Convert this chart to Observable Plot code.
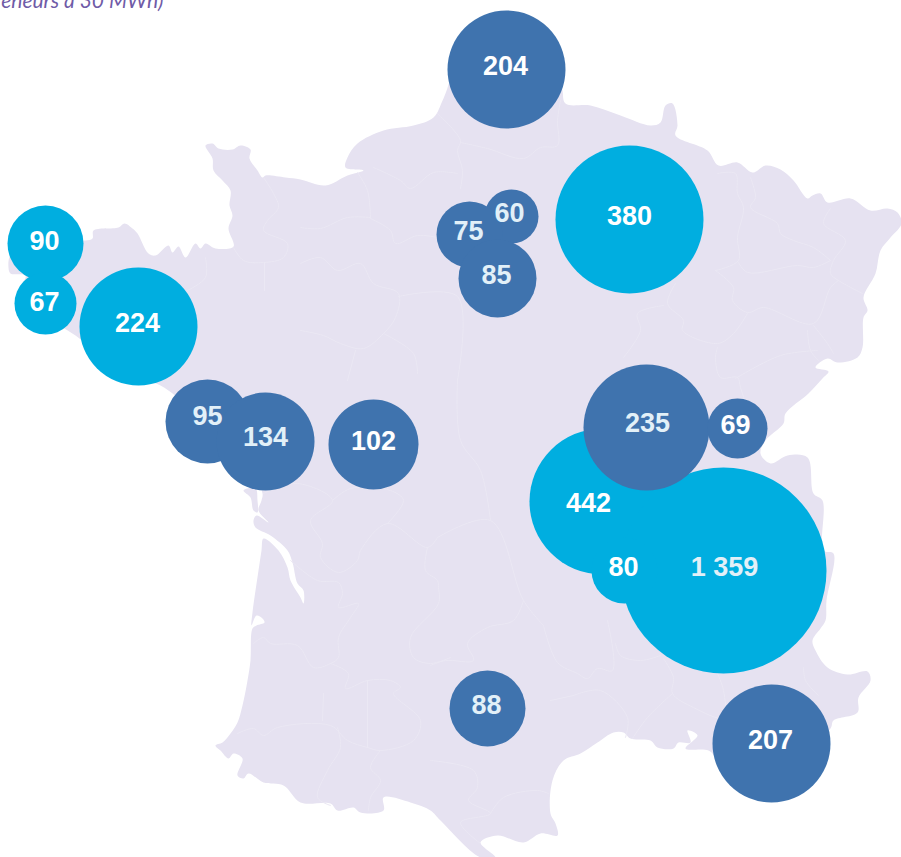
<!DOCTYPE html>
<html lang="fr">
<head>
<meta charset="utf-8">
<title>Carte</title>
<script src="https://cdn.jsdelivr.net/npm/d3@7"></script>
<script src="https://cdn.jsdelivr.net/npm/@observablehq/plot@0.6"></script>
<style>html,body{margin:0;padding:0;background:#fff;overflow:hidden}svg{display:block}</style>
</head>
<body>
<div id="chart"></div>
<script>
// Bubble values and their places on the map (map units)
const labels = ["204","380","60","75","85","90","67","224","95","134","102","442","1 359","80","235","69","88","207"];
const values = [204,380,60,75,85,90,67,224,95,134,102,442,1359,80,235,69,88,207];
const mapX   = [506,629,511,469,497,45,45,138,207,265,373,602,723,624,646,737,487,771];
const mapY   = [69,219,216,234,278,243,303,326,421,441,444,501,570,570,427,428,708,743];
const labelX = [505,629,509,468,496,44,44,137,207,265,373,588,724,623,647,735,486,770];
const labelY = [66,216,213,231,275,241,302,323,416,437,441,503,567,567,423,425,705,740];
const kinds  = ["b","c","b","b","b","c","c","c","b","b","b","c","c","c","b","b","b","b"];
const softLabels = ["60","75","85","95","134","235","88","1 359"];

// Radius legend: value -> drawn radius
const radiusDomain = [60,67,69,75,80,85,88,90,95,102,134,204,207,224,235,380,442,1359];
const radiusRange  = [27,31,30,33,33,39,38,38,42,45,49,59,59,59,63,74,73,103];

// France outline, traced (map units)
const coast = [[205,145],[212,143],[218,148],[232,149],[240,145],[250,149],[249,158],[257,170],[262,177],[265,175],[285,177],[300,179],[325,185],[347,175],[363,170],[345,167],[347,157],[357,143],[383,130],[413,125],[433,117],[443,98],[470,40],[520,60],[560,85],[565,103],[590,105],[620,115],[650,125],[660,122],[665,105],[672,103],[677,125],[675,135],[707,150],[718,165],[737,162],[752,172],[765,165],[780,169],[793,180],[807,198],[812,195],[820,193],[827,202],[850,198],[870,210],[887,208],[897,212],[901,223],[890,237],[880,250],[875,273],[863,297],[867,310],[863,317],[862,347],[857,357],[837,362],[827,358],[815,367],[828,371],[822,378],[808,393],[785,413],[783,423],[765,440],[760,453],[770,463],[787,455],[807,457],[813,493],[822,500],[823,550],[833,553],[826,600],[825,620],[820,628],[812,640],[815,650],[827,667],[847,674],[867,671],[870,680],[858,697],[857,712],[833,720],[830,728],[790,760],[720,760],[708,750],[685,748],[697,735],[687,730],[690,742],[678,742],[673,748],[657,747],[650,740],[630,738],[623,732],[613,732],[597,742],[580,753],[563,760],[552,780],[550,813],[555,823],[557,835],[540,833],[523,842],[497,835],[480,842],[495,857],[480,857],[440,820],[430,810],[410,802],[383,797],[383,810],[360,812],[353,807],[337,810],[330,803],[300,802],[283,785],[263,782],[248,773],[243,778],[237,775],[242,758],[233,753],[228,758],[220,750],[215,745],[222,742],[230,733],[237,722],[242,705],[247,680],[250,660],[252,628],[256,625],[264,622],[262,618],[256,615],[251,625],[252,612],[255,590],[258,570],[261,550],[263,538],[278,550],[287,567],[290,580],[300,597],[303,603],[303,590],[297,583],[292,562],[287,550],[270,535],[255,527],[253,520],[256,515],[268,522],[258,510],[261,500],[262,493],[250,470],[215,450],[190,410],[160,385],[130,375],[100,355],[75,335],[50,320],[30,310],[20,290],[25,275],[10,273],[8,267],[10,255],[30,245],[60,238],[85,240],[92,238],[93,230],[118,227],[124,223],[132,228],[137,233],[148,253],[155,255],[168,245],[172,252],[178,246],[185,257],[195,243],[200,248],[205,243],[215,248],[233,246],[228,228],[232,215],[229,205],[230,190],[222,180],[213,170],[212,158]];
const island = [[243,490],[250,497],[253,510],[257,512],[257,500],[255,488]];

// Administrative borders, traced (map units)
const borders = [
 [[263,177],[273,193],[278,207],[267,220],[263,230],[287,243],[283,257],[263,262],[243,260],[233,247]],
 [[264,262],[264,290]],
 [[205,257],[205,277],[187,290]],
 [[437,113],[460,140],[457,150],[462,170],[460,188]],
 [[460,142],[487,148],[523,158],[540,147],[557,145],[557,120],[560,100]],
 [[357,172],[367,190],[370,217]],
 [[373,167],[400,180],[410,188],[433,172],[457,173]],
 [[370,218],[390,230],[395,243],[417,235],[437,237]],
 [[300,227],[320,228],[347,217],[370,217]],
 [[300,263],[320,257],[337,270],[360,263],[373,283],[398,293],[395,317],[383,333],[363,348],[340,343],[323,335],[300,330]],
 [[398,296],[457,296],[457,380]],
 [[347,380],[355,350]],
 [[383,333],[413,353],[417,373]],
 [[717,173],[735,173],[737,193],[743,207],[737,237],[738,260],[715,270]],
 [[750,177],[755,197],[750,207],[777,223],[780,233],[793,240],[813,247],[830,260]],
 [[830,208],[823,223],[845,240],[833,260],[830,273],[838,280],[862,293]],
 [[738,262],[747,272],[797,265],[813,267],[830,260]],
 [[715,270],[733,287],[732,300],[747,312],[763,307],[813,323],[830,287],[838,280]],
 [[747,313],[733,333],[717,343],[682,330],[683,320],[667,303],[675,283]],
 [[663,305],[637,313],[640,330],[623,357]],
 [[717,347],[715,357],[720,377],[737,377],[740,387],[760,447]],
 [[735,378],[780,355],[817,350]],
 [[807,330],[810,350],[818,360]],
 [[813,325],[827,343],[833,353]],
 [[263,493],[297,483],[332,500],[310,520],[322,543],[320,557],[338,572],[357,560],[360,550],[387,523],[427,547],[437,537]],
 [[332,500],[350,488],[390,490],[403,500],[387,523]],
 [[290,560],[317,580],[338,582],[342,593],[338,607],[358,603],[350,617],[338,637],[338,657],[330,663],[313,667],[297,645],[270,643],[263,637],[253,643]],
 [[330,663],[348,673],[345,688],[367,680],[390,680],[400,687],[393,693],[420,720],[413,740],[380,750],[367,747],[347,740],[330,725],[277,727],[263,735],[253,728],[237,733]],
 [[367,680],[367,747]],
 [[323,693],[322,720]],
 [[427,547],[425,570],[437,580],[438,587],[438,603],[410,637],[413,657],[430,663],[450,657]],
 [[380,750],[370,767],[380,780],[370,797],[368,810]],
 [[337,727],[340,747],[327,770],[317,797],[330,805]],
 [[430,665],[445,660],[473,660],[467,643],[487,627],[513,620],[523,600]],
 [[543,625],[557,662],[577,673],[587,678],[597,668],[612,670],[607,620]],
 [[573,695],[600,690],[627,717],[625,737]],
 [[663,658],[673,677],[672,693],[693,707],[723,717],[723,690],[717,673]],
 [[672,693],[647,717],[632,738]],
 [[803,667],[805,680],[818,695]],
 [[615,643],[620,655],[640,660],[660,655]],
 [[430,760],[473,770],[477,787],[468,800],[490,813],[460,822],[480,843]],
 [[490,813],[503,797],[537,790],[548,793]],
 [[550,700],[573,695]],
 [[437,537],[490,520],[523,600],[543,625]],
 [[457,380],[460,440],[480,470],[490,520]]
];

const noteText = "éneurs à 30 MWh)";
const noteX = [163];
const noteY = [7];

const bubbles = values.map((value, i) => ({value, label: labels[i], x: mapX[i], y: mapY[i], lx: labelX[i], ly: labelY[i], kind: kinds[i]}));
const borderRows = borders.flatMap((line, id) => line.map(([x, y]) => ({id, x, y})));

const plot = Plot.plot({
  width: 901,
  height: 857,
  margin: 0,
  style: {background: "#fff", overflow: "hidden"},
  x: {domain: [0, 901], range: [0, 901], axis: null},
  y: {domain: [0, 857], range: [0, 857], axis: null},
  r: {type: "linear", domain: radiusDomain, range: radiusRange},
  color: {type: "ordinal", domain: ["b", "c"], range: ["#3f73ae", "#00aee0"]},
  marks: [
    Plot.line(coast, {x: d => d[0], y: d => d[1], fill: "#e6e2f1", stroke: "none", curve: "catmull-rom-closed"}),
    Plot.line(island, {x: d => d[0], y: d => d[1], fill: "#e6e2f1", stroke: "none", curve: "catmull-rom-closed"}),
    Plot.line(borderRows, {x: "x", y: "y", z: "id", stroke: "#ebe8f4", strokeWidth: 1, curve: "catmull-rom"}),
    Plot.dot(bubbles, {x: "x", y: "y", r: "value", fill: "kind", stroke: "none", sort: null}),
    Plot.text(bubbles, {x: "lx", y: "ly", text: "label", fill: d => softLabels.includes(d.label) ? "#e2f0f8" : "#fff", fontSize: 27, fontWeight: 700, fontFamily: "Liberation Sans, Arial, sans-serif", textAnchor: "middle", lineAnchor: "middle"}),
    Plot.text([noteText], {x: noteX, y: noteY, text: d => d, fill: "#6f5ba7", fontSize: 21, fontStyle: "italic", fontFamily: "Lato, sans-serif", textAnchor: "end", lineAnchor: "bottom"})
  ]
});
document.getElementById("chart").append(plot);
</script>
</body>
</html>
